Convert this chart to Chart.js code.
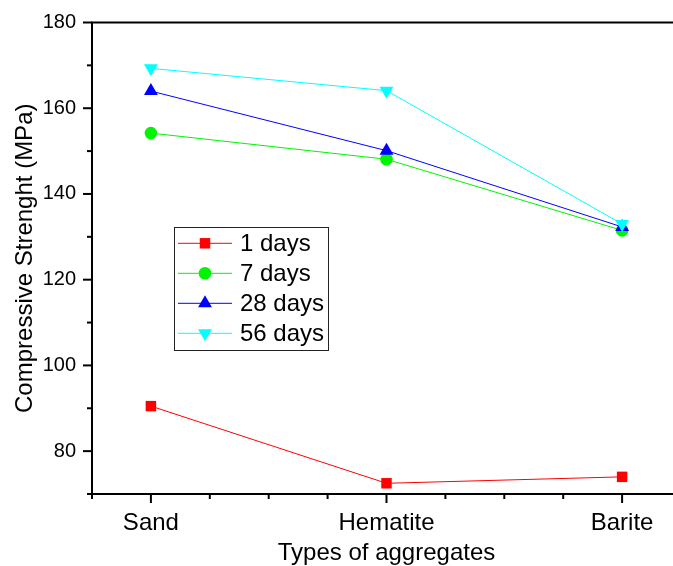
<!DOCTYPE html>
<html>
<head>
<meta charset="utf-8">
<script src="https://cdn.jsdelivr.net/npm/chart.js@4"></script>
<style>
  html, body { margin: 0; padding: 0; background: #fff; overflow: hidden; }
  #c { display: block; }
</style>
</head>
<body>
<canvas id="c" width="682" height="566"></canvas>
<script>
const categories = ['Sand', 'Hematite', 'Barite'];
const days1  = [90.5, 72.5, 74.0];
const days7  = [154.2, 148.1, 131.5];
const days28 = [164.0, 150.1, 132.3];
const days56 = [169.3, 164.1, 133.0];
const seriesLabels = ['1 days', '7 days', '28 days', '56 days'];
const yTicks = [80, 100, 120, 140, 160, 180];

const FONT = "'Liberation Sans', Arial, sans-serif";
const toPts = arr => arr.map((v, i) => ({ x: i + 1, y: v }));

function ds(label, data, color, style, radius, rotation, order) {
  return {
    label, data: toPts(data), borderColor: color, backgroundColor: color,
    borderWidth: 1, pointStyle: style, pointRadius: radius, pointHoverRadius: radius,
    pointRotation: rotation, pointBorderWidth: 0, pointBackgroundColor: color,
    pointBorderColor: color, tension: 0, order, fill: false, clip: false
  };
}

const frameAndLegend = {
  id: 'frameAndLegend',
  afterDraw(chart) {
    const ctx = chart.ctx;
    const a = chart.chartArea;
    const xs = chart.scales.x, ys = chart.scales.y;
    ctx.save();
    ctx.strokeStyle = '#000';
    ctx.lineWidth = 2;
    ctx.strokeRect(a.left, a.top, a.right - a.left, a.bottom - a.top);
    // y ticks
    ys.ticks.forEach(t => {
      const v = t.value;
      const p = ys.getPixelForValue(v);
      const len = (Math.abs(v % 20) < 1e-6) ? 9 : 5;
      ctx.beginPath();
      ctx.moveTo(a.left - len, p);
      ctx.lineTo(a.left, p);
      ctx.stroke();
    });
    // x ticks
    xs.ticks.forEach(t => {
      const v = t.value;
      const p = xs.getPixelForValue(v);
      const len = (Math.abs(v - Math.round(v)) < 1e-6) ? 9 : 5;
      ctx.beginPath();
      ctx.moveTo(p, a.bottom);
      ctx.lineTo(p, a.bottom + len);
      ctx.stroke();
    });
    // legend
    const lx = 174, ly = 227, lw = 154, lh = 123;
    ctx.fillStyle = '#fff';
    ctx.fillRect(lx, ly, lw, lh);
    ctx.lineWidth = 1;
    ctx.strokeStyle = '#222';
    ctx.strokeRect(lx + 0.5, ly + 0.5, lw, lh);
    chart.data.datasets.forEach((d, i) => {
      const cy = 243.3 + i * 30;
      ctx.strokeStyle = d.borderColor;
      ctx.lineWidth = 1;
      ctx.beginPath();
      ctx.moveTo(178, cy);
      ctx.lineTo(232, cy);
      ctx.stroke();
      ctx.fillStyle = d.backgroundColor;
      Chart.helpers.drawPoint(ctx, {
        pointStyle: d.pointStyle, radius: d.pointRadius, rotation: d.pointRotation, borderWidth: 0
      }, 205, cy);
      ctx.fillStyle = '#000';
      ctx.font = '24px ' + FONT;
      ctx.textAlign = 'left';
      ctx.textBaseline = 'middle';
      ctx.fillText(d.label, 240, cy + 1.5);
    });
    ctx.restore();
  }
};

new Chart(document.getElementById('c'), {
  type: 'line',
  data: {
    datasets: [
      ds(seriesLabels[0], days1, '#ff0000', 'rect', 7.4, 0, 3),
      ds(seriesLabels[1], days7, '#00f500', 'circle', 6.3, 0, 2),
      ds(seriesLabels[2], days28, '#0000ff', 'triangle', 8, 0, 1),
      ds(seriesLabels[3], days56, '#00ffff', 'triangle', 8, 180, 0)
    ]
  },
  options: {
    responsive: false,
    animation: false,
    devicePixelRatio: 1,
    layout: { autoPadding: false, padding: { top: 22.5, left: 0, right: 1, bottom: 0 } },
    plugins: { legend: { display: false }, tooltip: { enabled: false } },
    scales: {
      x: {
        type: 'linear', min: 0.75, max: 3.25,
        grid: { display: false, drawTicks: false },
        border: { display: false },
        afterFit(s) { s.height = 72; s.paddingLeft = 0; s.paddingRight = 0; },
        ticks: {
          stepSize: 0.25, autoSkip: false, maxRotation: 0, padding: 15,
          color: '#000', font: { family: FONT, size: 24 },
          callback: v => (Math.abs(v - Math.round(v)) < 1e-6 && categories[Math.round(v) - 1]) ? categories[Math.round(v) - 1] : ''
        },
        title: {
          display: true, text: 'Types of aggregates', color: '#000',
          font: { family: FONT, size: 24, lineHeight: 1.2 }, padding: { top: 0, bottom: -1.5 }
        }
      },
      y: {
        type: 'linear', min: 70, max: 180,
        grid: { display: false, drawTicks: false },
        border: { display: false },
        afterFit(s) { s.width = 92; s.paddingTop = 0; s.paddingBottom = 0; },
        ticks: {
          stepSize: 10, autoSkip: false, padding: 16,
          color: '#000', font: { family: FONT, size: 20 },
          callback: v => yTicks.includes(v) ? String(v) : ''
        },
        title: {
          display: true, text: 'Compressive Strenght (MPa)', color: '#000',
          font: { family: FONT, size: 24, lineHeight: 1.2 }, padding: { top: 10.6, bottom: 0 }
        }
      }
    }
  },
  plugins: [frameAndLegend]
});
</script>
</body>
</html>
